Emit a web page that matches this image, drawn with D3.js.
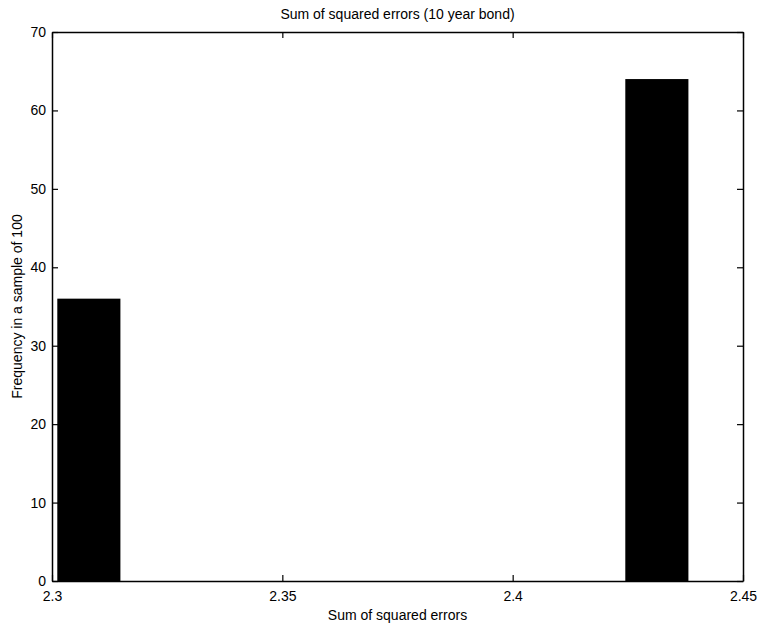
<!DOCTYPE html>
<html>
<head>
<meta charset="UTF-8">
<script src="https://d3js.org/d3.v7.min.js"></script>
<style>
  body { margin: 0; background: #fff; }
  text { font-family: "Liberation Sans", Arial, sans-serif; fill: #000; }
</style>
</head>
<body>
<div id="chart"></div>
<script>
// histogram bins (centres) and counts
var binCentres = [2.3080, 2.3217, 2.3354, 2.3491, 2.3628, 2.3765, 2.3902, 2.4039, 2.4176, 2.4313];
var counts = [36, 0, 0, 0, 0, 0, 0, 0, 0, 64];
var binWidth = 0.0137;
var xTicks = [2.3, 2.35, 2.4, 2.45];
var yTicks = [0, 10, 20, 30, 40, 50, 60, 70];

var width = 761, height = 627;
var margin = {left: 52, right: 18, top: 32, bottom: 46};

var svg = d3.select("#chart").append("svg")
    .attr("width", width)
    .attr("height", height);

var x = d3.scaleLinear().domain([2.3, 2.45]).range([margin.left, width - margin.right]);
var y = d3.scaleLinear().domain([0, 70]).range([height - margin.bottom, margin.top]);

// bars
svg.append("g").selectAll("rect")
    .data(counts)
    .enter().append("rect")
    .attr("x", function(d, i) { return x(binCentres[i] - binWidth / 2); })
    .attr("width", function() { return x(2.3 + binWidth) - x(2.3); })
    .attr("y", function(d) { return y(d); })
    .attr("height", function(d) { return y(0) - y(d); })
    .attr("fill", "#000");

// axes, ticks pointing inwards, box all round
var fmt = function(d) { return d3.format("")(d); };
var bottom = svg.append("g").attr("transform", "translate(0," + y(0) + ")")
    .call(d3.axisBottom(x).tickValues(xTicks).tickSizeInner(-6).tickSizeOuter(0).tickPadding(10).tickFormat(fmt));
var top = svg.append("g").attr("transform", "translate(0," + y(70) + ")")
    .call(d3.axisTop(x).tickValues(xTicks).tickSizeInner(-6).tickSizeOuter(0).tickFormat(""));
var left = svg.append("g").attr("transform", "translate(" + x(2.3) + ",0)")
    .call(d3.axisLeft(y).tickValues(yTicks).tickSizeInner(-6).tickSizeOuter(0).tickPadding(6).tickFormat(fmt));
var right = svg.append("g").attr("transform", "translate(" + x(2.45) + ",0)")
    .call(d3.axisRight(y).tickValues(yTicks).tickSizeInner(-6).tickSizeOuter(0).tickFormat(""));

svg.selectAll(".domain").attr("stroke", "#000").attr("stroke-width", 1.5);
svg.selectAll(".tick line").attr("stroke", "#000").attr("stroke-width", 1.2);
svg.selectAll(".tick text").style("font-size", "14px").style("font-family", "Liberation Sans, Arial, sans-serif");

// titles
svg.append("text")
    .attr("x", (x(2.3) + x(2.45)) / 2)
    .attr("y", 19)
    .attr("text-anchor", "middle")
    .style("font-size", "14px")
    .text("Sum of squared errors (10 year bond)");

svg.append("text")
    .attr("x", (x(2.3) + x(2.45)) / 2)
    .attr("y", 620)
    .attr("text-anchor", "middle")
    .style("font-size", "14px")
    .text("Sum of squared errors");

svg.append("text")
    .attr("transform", "translate(22," + ((y(0) + y(70)) / 2) + ") rotate(-90)")
    .attr("text-anchor", "middle")
    .style("font-size", "14px")
    .text("Frequency in a sample of 100");
</script>
</body>
</html>
